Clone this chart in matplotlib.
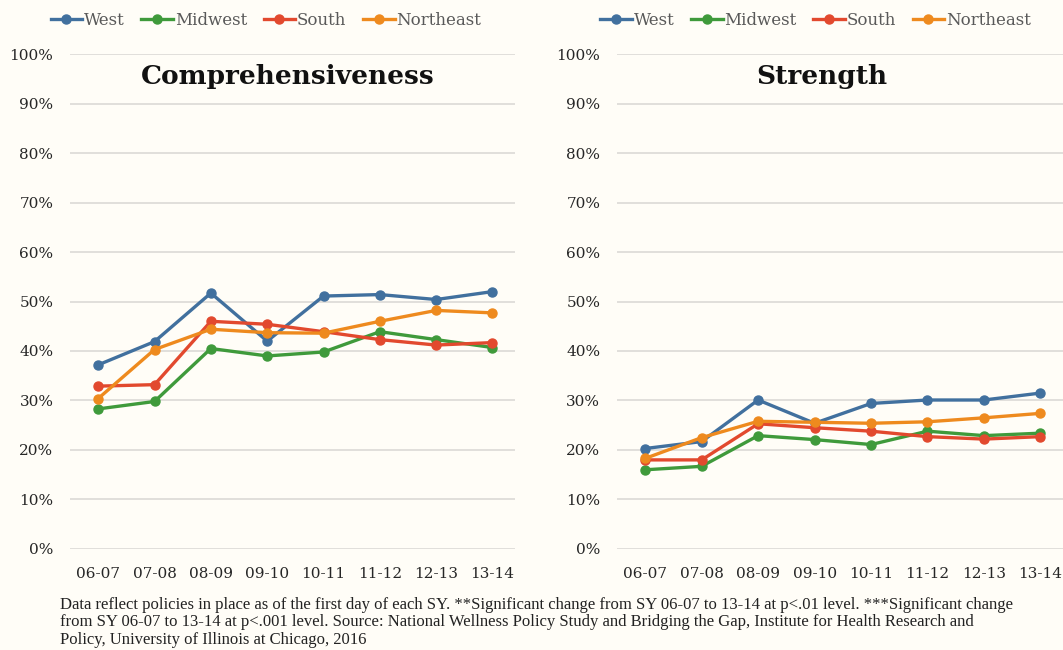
import numpy as np
import matplotlib.pyplot as plt
from matplotlib.ticker import PercentFormatter

YEARS = ["06-07", "07-08", "08-09", "09-10", "10-11", "11-12", "12-13", "13-14"]
REGIONS = ["West", "Midwest", "South", "Northeast"]
COLORS = ["#41709e", "#3f9a3b", "#e2492e", "#ee8a1e"]

# Comprehensiveness (%)
comp_west = [37.2, 41.9, 51.7, 42.0, 51.1, 51.4, 50.4, 52.0]
comp_midwest = [28.3, 29.8, 40.5, 39.0, 39.8, 43.9, 42.3, 40.7]
comp_south = [32.9, 33.2, 46.0, 45.4, 43.9, 42.3, 41.2, 41.7]
comp_northeast = [30.4, 40.3, 44.4, 43.7, 43.6, 46.0, 48.2, 47.7]

# Strength (%)
str_west = [20.3, 21.7, 30.1, 25.4, 29.4, 30.1, 30.1, 31.5]
str_midwest = [16.0, 16.7, 22.9, 22.1, 21.1, 23.8, 22.9, 23.4]
str_south = [18.0, 18.0, 25.3, 24.5, 23.8, 22.7, 22.2, 22.7]
str_northeast = [18.3, 22.5, 25.8, 25.6, 25.4, 25.7, 26.5, 27.4]

BG = "#fffdf7"
TXT = "#262626"
SERIF = ["DejaVu Serif"]


def draw_panel(ax, series, title, title_x, leg_x):
    x = np.arange(len(YEARS))
    for vals, name, col in zip(series, REGIONS, COLORS):
        ax.plot(x, vals, color=col, lw=2.4, marker="o", ms=6.5, label=name,
                solid_joinstyle="round")
    ax.set_facecolor(BG)
    ax.set_ylim(0, 100)
    ax.set_xlim(-0.5, 7.4)
    ax.set_yticks(np.arange(0, 101, 10))
    ax.yaxis.set_major_formatter(PercentFormatter(decimals=0))
    ax.set_xticks(x)
    ax.set_xticklabels(YEARS)
    ax.grid(axis="y", color="#dcdad6", lw=1.2)
    ax.set_axisbelow(True)
    for s in ax.spines.values():
        s.set_visible(False)
    ax.tick_params(length=0, labelsize=11, colors=TXT)
    ax.tick_params(axis="y", pad=12)
    ax.tick_params(axis="x", pad=13)
    for lab in ax.get_xticklabels() + ax.get_yticklabels():
        lab.set_family(SERIF)
    ax.text(title_x, 0.955, title, transform=ax.transAxes, ha="center", va="center",
            fontsize=19, fontweight="bold", family=SERIF, color="#111111")
    leg = ax.legend(loc="lower center", bbox_to_anchor=(leg_x, 1.02), ncol=4,
                    frameon=False, handlelength=1.9, handletextpad=0.1,
                    columnspacing=1.0, prop={"family": SERIF, "size": 12})
    for t in leg.get_texts():
        t.set_color("#595959")


fig = plt.figure(figsize=(10.63, 6.5), dpi=100)
fig.patch.set_facecolor(BG)

ax1 = fig.add_axes([0.0659, 0.1554, 0.4186, 0.7615])
ax2 = fig.add_axes([0.5804, 0.1554, 0.4196, 0.7615])

draw_panel(ax1, [comp_west, comp_midwest, comp_south, comp_northeast],
           "Comprehensiveness", 0.49, 0.44)
draw_panel(ax2, [str_west, str_midwest, str_south, str_northeast],
           "Strength", 0.46, 0.445)

note = ("Data reflect policies in place as of the first day of each SY. **Significant change from SY 06-07 to 13-14 at p<.01 level. ***Significant change\n"
        "from SY 06-07 to 13-14 at p<.001 level. Source: National Wellness Policy Study and Bridging the Gap, Institute for Health Research and\n"
        "Policy, University of Illinois at Chicago, 2016")
fig.text(60 / 1063, 1 - 597 / 650, note, ha="left", va="top", fontsize=12,
         family=["Liberation Serif"], color="#222222", linespacing=1.12)

fig.savefig("out.png", dpi=100, facecolor=BG)
